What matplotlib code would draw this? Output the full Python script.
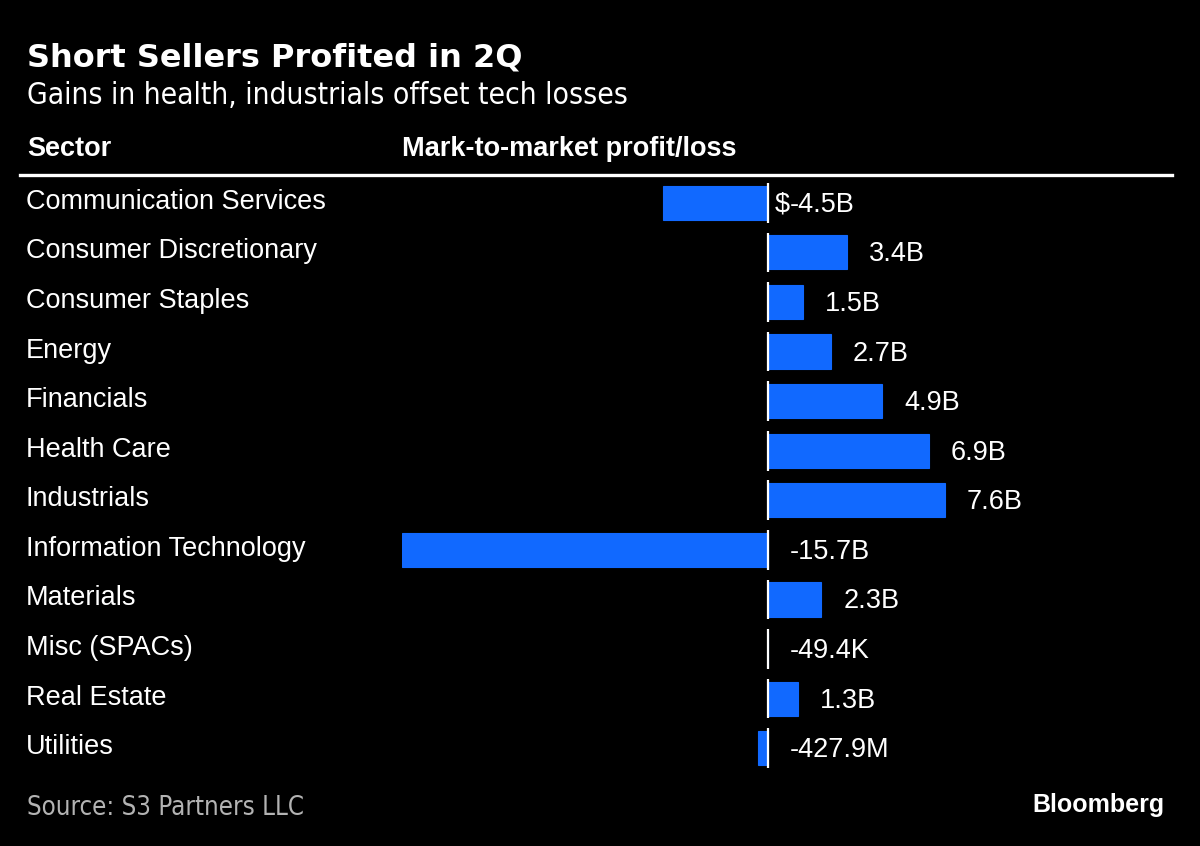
import matplotlib
matplotlib.use("Agg")
import matplotlib.pyplot as plt
from matplotlib.transforms import blended_transform_factory

categories = ["Communication Services", "Consumer Discretionary", "Consumer Staples",
              "Energy", "Financials", "Health Care", "Industrials",
              "Information Technology", "Materials", "Misc (SPACs)",
              "Real Estate", "Utilities"]
values_bn = [-4.5, 3.4, 1.5, 2.7, 4.9, 6.9, 7.6, -15.7, 2.3, -0.0000494, 1.3, -0.4279]
value_labels = ["$-4.5B", "3.4B", "1.5B", "2.7B", "4.9B", "6.9B", "7.6B",
                "-15.7B", "2.3B", "-49.4K", "1.3B", "-427.9M"]

title = "Short Sellers Profited in 2Q"
subtitle = "Gains in health, industrials offset tech losses"
col_left = "Sector"
col_right = "Mark-to-market profit/loss"
source = "Source: S3 Partners LLC"
brand = "Bloomberg"

BG = "black"
BLUE = "#1169ff"
W, H = 1200, 846

fig = plt.figure(figsize=(W / 100, H / 100), dpi=100, facecolor=BG)

def fx(px):
    return px / W

def fy(py):
    return 1 - py / H

ax_left, ax_right, ax_top, ax_bot = 402, 1172, 178, 773
ax = fig.add_axes([fx(ax_left), fy(ax_bot), fx(ax_right - ax_left), (ax_bot - ax_top) / H])
ax.set_facecolor(BG)
n = len(categories)
ypos = list(range(n))
ax.barh(ypos, values_bn, height=0.69, color=BLUE, edgecolor=BLUE, linewidth=0.8)
ax.set_xlim(-15.7, -15.7 + (ax_right - ax_left) / 23.3)
ax.set_ylim(n - 0.5, -0.5)
ax.axis("off")

# zero line segments
for y in ypos:
    ax.plot([0, 0], [y - 0.4, y + 0.4], color="white", lw=1.6, solid_capstyle="butt")

label_font = dict(family=["Liberation Sans", "DejaVu Sans"], color="white", fontsize=19.5)
pad = 22 / 23.3
for y, v, lab in zip(ypos, values_bn, value_labels):
    x = (max(v, 0) + pad)
    if lab.startswith("$"):
        ax.text(x, y + 0.04, "$", ha="right", va="center", **label_font)
        lab = lab[1:]
    ax.text(x, y + 0.04, lab, ha="left", va="center", **label_font)

tr = blended_transform_factory(fig.transFigure, ax.transData)
for y, c in zip(ypos, categories):
    ax.text(fx(26), y - 0.02, c, transform=tr, ha="left", va="center", **label_font)

# titles
fig.text(fx(27), fy(58), title, ha="left", va="center", color="white",
         fontsize=23, fontweight="bold", family="DejaVu Sans")
fig.text(fx(27), fy(95), subtitle, ha="left", va="center", color="white",
         fontsize=21.5, family="DejaVu Sans", fontstretch="condensed")
fig.text(fx(27), fy(149), col_left, ha="left", va="center", color="white",
         fontsize=19.5, fontweight="bold", family=["Liberation Sans", "DejaVu Sans"])
fig.text(fx(402), fy(149), col_right, ha="left", va="center", color="white",
         fontsize=19.5, fontweight="bold", family=["Liberation Sans", "DejaVu Sans"])
fig.add_artist(plt.Line2D([fx(20), fx(1172)], [fy(175.5), fy(175.5)], color="white", lw=2.4,
                          transform=fig.transFigure))

fig.text(fx(27), fy(808), source, ha="left", va="center", color="#b3b3b3",
         fontsize=18.5, family="DejaVu Sans", fontstretch="condensed")
fig.text(fx(1165), fy(805), brand, ha="right", va="center", color="white",
         fontsize=18, fontweight="bold", family=["Liberation Sans", "DejaVu Sans"])

fig.savefig("out.png", dpi=100, facecolor=BG)
